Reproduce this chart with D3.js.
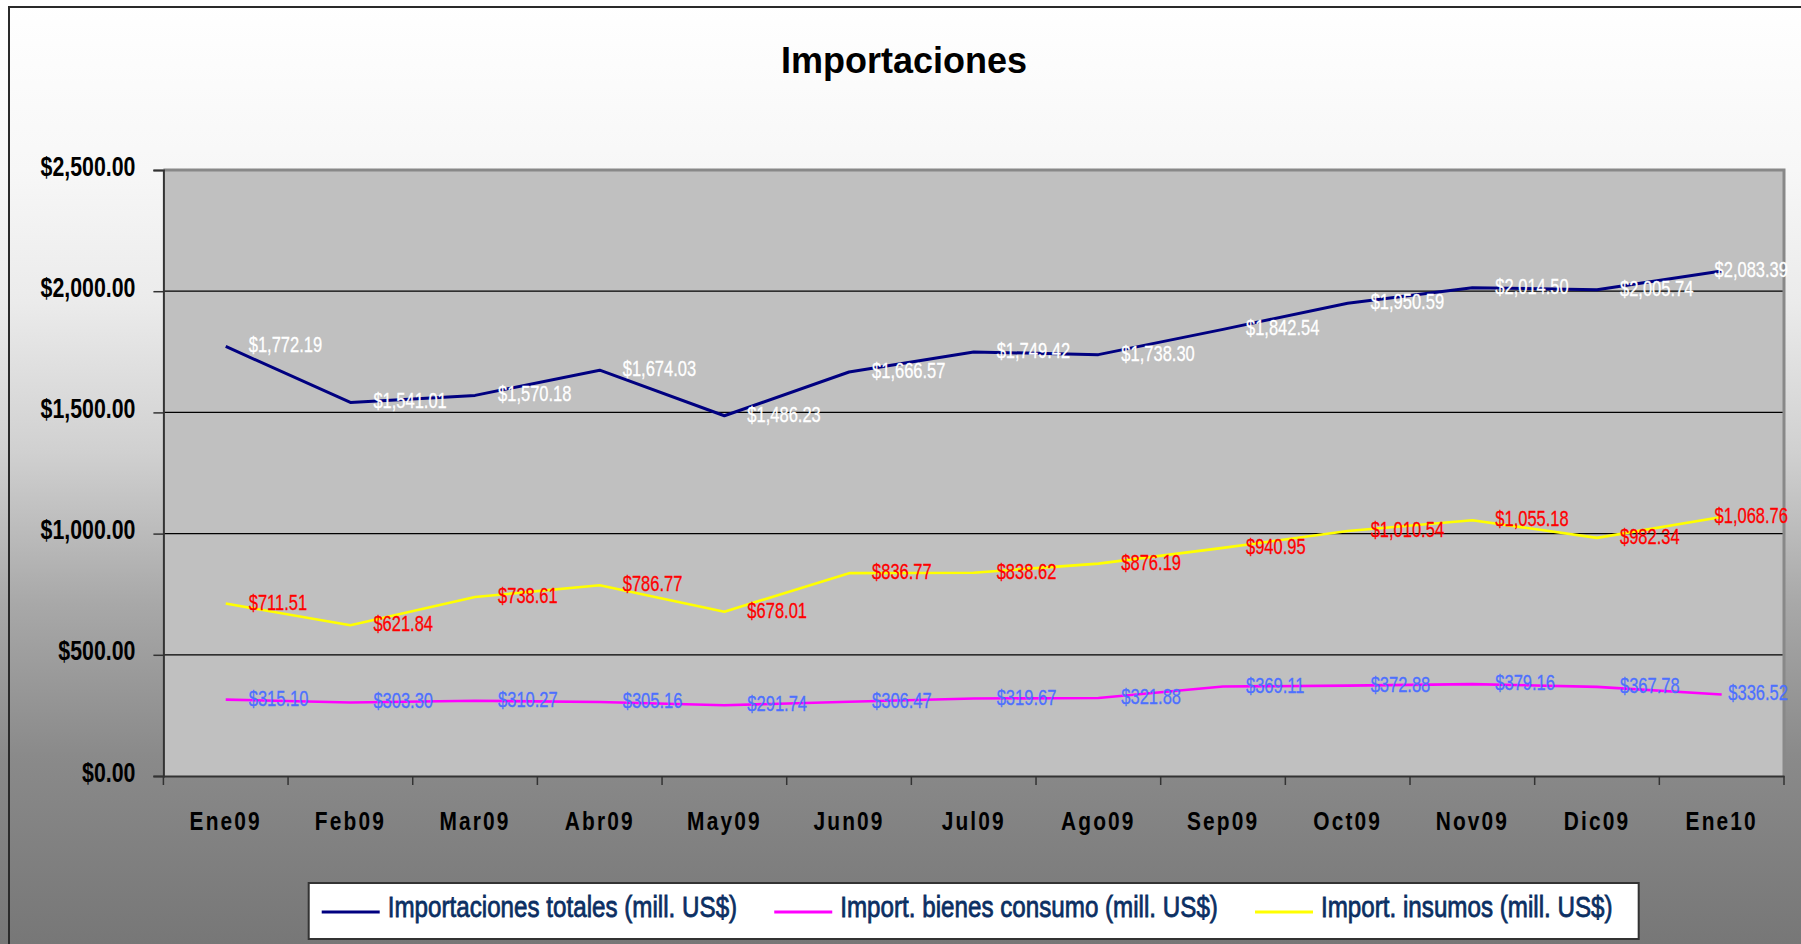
<!DOCTYPE html>
<html>
<head>
<meta charset="utf-8">
<script src="https://cdn.jsdelivr.net/npm/d3@7"></script>
<style>
  html, body { margin: 0; padding: 0; background: #fff; }
  svg { display: block; }
  text { font-family: "Liberation Sans", Arial, sans-serif; }
</style>
</head>
<body>
<div id="chart"></div>
<script>
// datos
const categorias = ['Ene09', 'Feb09', 'Mar09', 'Abr09', 'May09', 'Jun09', 'Jul09',
  'Ago09', 'Sep09', 'Oct09', 'Nov09', 'Dic09', 'Ene10'];
const totales = [1772.19, 1541.01, 1570.18, 1674.03, 1486.23, 1666.57, 1749.42,
  1738.30, 1842.54, 1950.59, 2014.50, 2005.74, 2083.39];
const bienesConsumo = [315.10, 303.30, 310.27, 305.16, 291.74, 306.47, 319.67,
  321.88, 369.11, 372.88, 379.16, 367.78, 336.52];
const insumos = [711.51, 621.84, 738.61, 786.77, 678.01, 836.77, 838.62,
  876.19, 940.95, 1010.54, 1055.18, 982.34, 1068.76];
const yTicks = [0, 500, 1000, 1500, 2000, 2500];
const titulo = 'Importaciones';
const nombresSeries = ['Importaciones totales (mill. US$)',
  'Import. bienes consumo (mill. US$)', 'Import. insumos (mill. US$)'];

const series = [
  { name: nombresSeries[0], values: totales, line: '#000080', label: '#ffffff' },
  { name: nombresSeries[1], values: bienesConsumo, line: '#ff00ff', label: '#4d70ff' },
  { name: nombresSeries[2], values: insumos, line: '#ffff00', label: '#ff0000' }
];

const W = 1801, H = 944;
const plot = { left: 163.4, right: 1784, top: 170, bottom: 776 };
const K = 0.82;      // ancho de fuente "narrow"
const KLabel = 0.75; // etiquetas de datos, mas comprimidas
const money = d3.format('$,.2f');

const svg = d3.select('#chart').append('svg')
  .attr('width', W).attr('height', H);

// fondo degradado del area del grafico
const grad = svg.append('defs').append('linearGradient')
  .attr('id', 'bg').attr('gradientUnits', 'userSpaceOnUse')
  .attr('x1', 0).attr('y1', 0).attr('x2', 0).attr('y2', H);
[[0, '#ffffff'], [0.18, '#f7f7f7'], [0.32, '#ebebeb'], [0.48, '#d0d0d0'],
 [0.64, '#a8a8a8'], [0.8, '#8a8a8a'], [1, '#777777']].forEach(s => {
  grad.append('stop').attr('offset', s[0]).attr('stop-color', s[1]);
});

svg.append('rect').attr('width', W).attr('height', H).attr('fill', 'url(#bg)');
svg.append('rect')
  .attr('x', 9).attr('y', 7).attr('width', W).attr('height', H)
  .attr('fill', 'none').attr('stroke', '#2a2a2a').attr('stroke-width', 2);

// comprime el texto horizontalmente
function narrow(sel, k) {
  k = k || K;
  sel.each(function () {
    const t = d3.select(this);
    const x = +t.attr('x') || 0;
    t.attr('x', x / k).attr('transform', 'scale(' + k + ',1)');
  });
}

// Titulo
svg.append('text')
  .attr('x', 904).attr('y', 73)
  .attr('text-anchor', 'middle')
  .attr('font-size', 36).attr('font-weight', 'bold')
  .attr('fill', '#000')
  .text(titulo);

const x = d3.scaleBand()
  .domain(categorias)
  .range([plot.left, plot.right]);

const y = d3.scaleLinear()
  .domain([0, 2500])
  .range([plot.bottom, plot.top]);

// area de trazado
svg.append('rect')
  .attr('x', plot.left).attr('y', plot.top)
  .attr('width', plot.right - plot.left).attr('height', plot.bottom - plot.top)
  .attr('fill', '#c0c0c0');

// lineas de division
svg.append('g')
  .selectAll('line')
  .data(yTicks.filter(d => d > 0 && d < 2500))
  .enter().append('line')
  .attr('x1', plot.left).attr('x2', plot.right)
  .attr('y1', d => y(d)).attr('y2', d => y(d))
  .attr('stroke', '#000').attr('stroke-width', 1.2);

// borde superior y derecho
svg.append('path')
  .attr('d', 'M' + plot.left + ',' + plot.top + 'H' + plot.right + 'V' + plot.bottom)
  .attr('fill', 'none').attr('stroke', '#888').attr('stroke-width', 3);

// Eje Y
const yAxis = svg.append('g')
  .attr('transform', 'translate(' + plot.left + ',0)')
  .call(d3.axisLeft(y).tickValues(yTicks).tickSize(10).tickPadding(18)
    .tickFormat(d => money(d)));
yAxis.select('.domain').attr('stroke', '#333').attr('stroke-width', 2);
yAxis.selectAll('.tick line').attr('stroke', '#333').attr('stroke-width', 1.5);
yAxis.selectAll('text')
  .attr('font-size', 27).attr('font-weight', 'bold')
  .attr('fill', '#000').attr('dy', 5)
  .attr('font-family', '"Liberation Sans", Arial, sans-serif')
  .call(narrow, 0.79);

// Eje X
const xAxis = svg.append('g')
  .attr('transform', 'translate(0,' + plot.bottom + ')')
  .call(d3.axisBottom(x).tickSize(0).tickPadding(54));
xAxis.select('.domain').attr('stroke', '#333').attr('stroke-width', 2);
xAxis.selectAll('text')
  .attr('font-size', 25.5).attr('font-weight', 'bold')
  .attr('fill', '#000').attr('dy', 0)
  .attr('letter-spacing', 2.6)
  .attr('font-family', '"Liberation Sans", Arial, sans-serif')
  .call(narrow);

// marcas entre categorias
const bordes = categorias.map(c => x(c)).concat([x(categorias[categorias.length - 1]) + x.bandwidth()]);
svg.append('g')
  .selectAll('line')
  .data(bordes)
  .enter().append('line')
  .attr('x1', d => d).attr('x2', d => d)
  .attr('y1', plot.bottom).attr('y2', plot.bottom + 9)
  .attr('stroke', '#333').attr('stroke-width', 1.5);

const cx = c => x(c) + x.bandwidth() / 2;

const line = d3.line()
  .x((d, i) => cx(categorias[i]))
  .y(d => y(d));

// lineas de las series
series.forEach(s => {
  svg.append('path')
    .datum(s.values)
    .attr('fill', 'none')
    .attr('stroke', s.line)
    .attr('stroke-width', s.line === '#000080' ? 3 : 2.6)
    .attr('stroke-linejoin', 'round')
    .attr('d', line);
});

// etiquetas de datos
const limite = W - 13;
series.forEach(s => {
  svg.append('g')
    .selectAll('text')
    .data(s.values)
    .enter().append('text')
    .attr('x', (d, i) => cx(categorias[i]) + 23)
    .attr('y', d => y(d) + 6)
    .attr('font-size', 22)
    .attr('fill', s.label)
    .attr('stroke', s.label).attr('stroke-width', 0.3)
    .text(d => money(d))
    .each(function () {
      const t = d3.select(this);
      const w = this.getComputedTextLength() * KLabel;
      const x0 = +t.attr('x');
      if (x0 + w > limite) t.attr('x', limite - w);
    })
    .call(narrow, KLabel);
});

// Leyenda
const leg = svg.append('g');
const legBox = leg.append('rect')
  .attr('fill', '#fff').attr('stroke', '#333').attr('stroke-width', 2);
let lx = 0;
const items = [];
series.forEach((s, i) => {
  const g = leg.append('g').attr('transform', 'translate(' + lx + ',0)');
  g.append('line')
    .attr('x1', 0).attr('x2', 58).attr('y1', 912).attr('y2', 912)
    .attr('stroke', s.line).attr('stroke-width', 3);
  const t = g.append('text')
    .attr('x', 66).attr('y', 917)
    .attr('font-size', 29.5)
    .attr('fill', '#0b2f63')
    .attr('stroke', '#0b2f63').attr('stroke-width', 0.8)
    .text(s.name);
  const w = t.node().getComputedTextLength() * K;
  t.call(narrow);
  lx += 66 + w + 37;
  items.push(g);
});
const contentW = lx - 37;
const legW = contentW + 13 + 26;
const legX = (plot.left + plot.right) / 2 - legW / 2;
legBox.attr('x', legX).attr('y', 883).attr('width', legW).attr('height', 56);
items.forEach(g => {
  const tr = g.attr('transform').match(/translate\(([-\d.]+)/);
  g.attr('transform', 'translate(' + (legX + 13 + (+tr[1])) + ',0)');
});
</script>
</body>
</html>
